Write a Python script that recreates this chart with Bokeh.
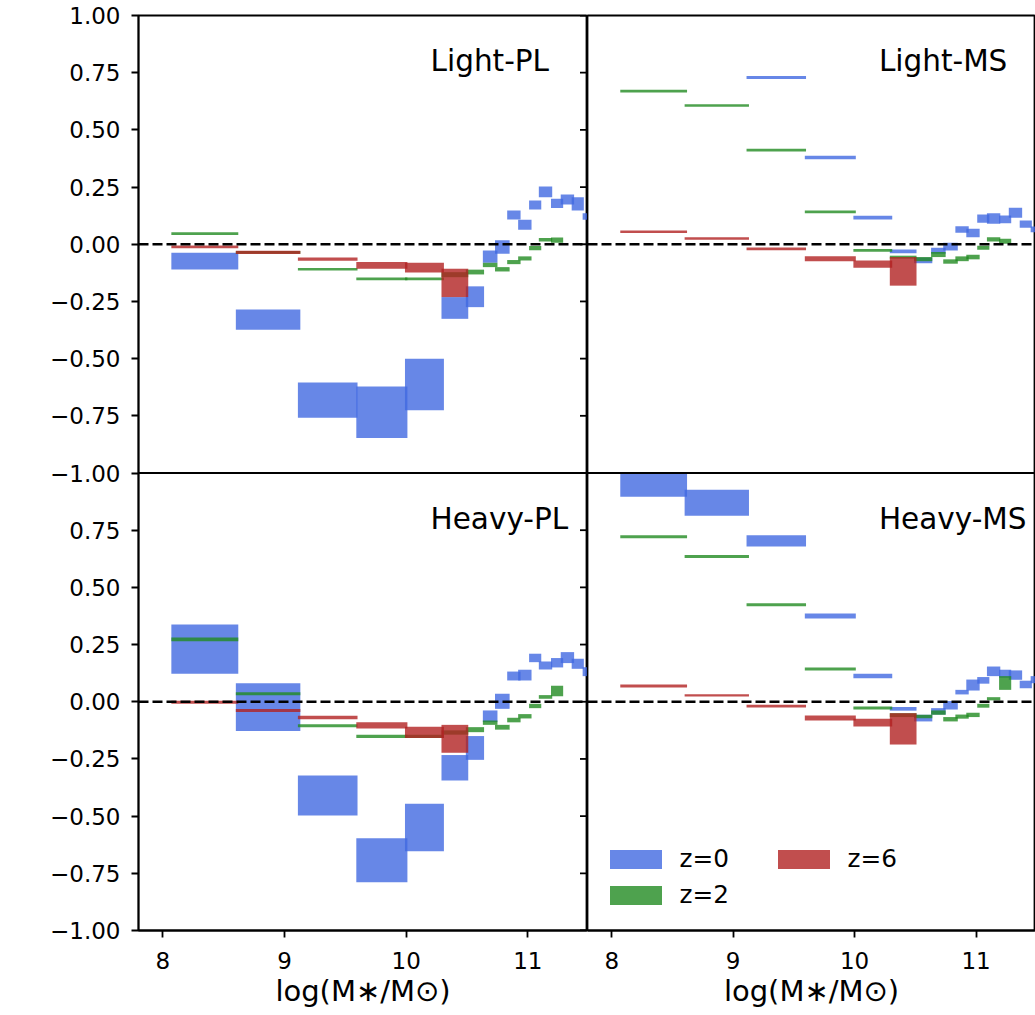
import math

from bokeh.core.properties import value
from bokeh.embed import file_html
from bokeh.layouts import row
from bokeh.models import (CustomJSTickFormatter, FixedTicker, Label, Legend,
                          LegendItem, LinearAxis, Range1d, Span)
from bokeh.plotting import figure
from bokeh.resources import INLINE

nan = float("nan")

# Stellar-mass bins, log(M*/Msun): left and right edges
bin_lo = [8.07, 8.60, 9.11, 9.59, 9.99, 10.29, 10.49, 10.63, 10.73, 10.83,
          10.92, 11.01, 11.09, 11.19, 11.27, 11.36, 11.45]
bin_hi = [8.62, 9.13, 9.60, 10.01, 10.31, 10.51, 10.64, 10.75, 10.85, 10.94,
          11.03, 11.11, 11.20, 11.29, 11.38, 11.46, 11.56]

x_ticks = [8, 9, 10, 11]
y_ticks = [-1.0, -0.75, -0.5, -0.25, 0.0, 0.25, 0.5, 0.75, 1.0]

redshift_labels = ["z=0", "z=2", "z=6"]
redshift_colors = ["royalblue", "forestgreen", "firebrick"]

# Light seeds, power-law occupation: lower / upper edge of each band
light_pl_z0_lo = [-0.110, -0.374, -0.758, -0.847, -0.726, -0.326, -0.275, -0.081, -0.042,
                  0.108, 0.063, 0.152, 0.206, 0.158, 0.174, 0.148, 0.107]
light_pl_z0_hi = [-0.037, -0.285, -0.604, -0.622, -0.500, -0.231, -0.184, -0.027, 0.017,
                  0.148, 0.107, 0.191, 0.253, 0.199, 0.218, 0.206, 0.136]
light_pl_z2_lo = [0.040, -0.042, -0.115, -0.157, -0.157, -0.144, -0.132, -0.100, -0.119,
                  -0.087, -0.071, -0.026, 0.012, 0.007]
light_pl_z2_hi = [0.052, -0.030, -0.104, -0.145, -0.145, -0.122, -0.111, -0.081, -0.100,
                  -0.069, -0.053, -0.008, 0.027, 0.030]
light_pl_z6_lo = [-0.017, -0.043, -0.072, -0.107, -0.123, -0.231]
light_pl_z6_hi = [-0.005, -0.028, -0.058, -0.078, -0.081, -0.107]

# Light seeds, M-sigma occupation
light_ms_z0_lo = [nan, nan, 0.722, 0.372, 0.108, -0.039, -0.083, -0.042, -0.027,
                  0.050, 0.031, 0.094, 0.090, 0.092, 0.116, 0.072, 0.053]
light_ms_z0_hi = [nan, nan, 0.736, 0.387, 0.125, -0.023, -0.058, -0.015, 0.007,
                  0.079, 0.068, 0.130, 0.136, 0.126, 0.160, 0.104, 0.078]
light_ms_z2_lo = [0.663, 0.601, 0.406, 0.136, -0.033, -0.063, -0.074, -0.056, -0.085,
                  -0.074, -0.066, -0.024, 0.012, 0.002]
light_ms_z2_hi = [0.675, 0.612, 0.417, 0.148, -0.021, -0.050, -0.056, -0.034, -0.066,
                  -0.053, -0.046, -0.007, 0.031, 0.024]
light_ms_z6_lo = [0.049, 0.020, -0.026, -0.074, -0.103, -0.181]
light_ms_z6_hi = [0.060, 0.031, -0.014, -0.053, -0.071, -0.056]

# Heavy seeds, power-law occupation
heavy_pl_z0_lo = [0.122, -0.128, -0.497, -0.789, -0.654, -0.344, -0.254, -0.089, -0.031,
                  0.093, 0.093, 0.173, 0.141, 0.150, 0.169, 0.144, 0.112]
heavy_pl_z0_hi = [0.338, 0.081, -0.322, -0.597, -0.446, -0.233, -0.150, -0.038, 0.035,
                  0.132, 0.140, 0.210, 0.176, 0.191, 0.217, 0.188, 0.151]
heavy_pl_z2_lo = [0.265, 0.028, -0.111, -0.159, -0.159, -0.144, -0.133, -0.101, -0.122,
                  -0.090, -0.073, -0.028, 0.013, 0.024]
heavy_pl_z2_hi = [0.281, 0.042, -0.098, -0.144, -0.144, -0.125, -0.111, -0.082, -0.101,
                  -0.070, -0.054, -0.009, 0.029, 0.070]
heavy_pl_z6_lo = [-0.009, -0.045, -0.077, -0.117, -0.159, -0.223]
heavy_pl_z6_hi = [0.004, -0.032, -0.061, -0.090, -0.109, -0.101]

# Heavy seeds, M-sigma occupation (first band capped at the panel top)
heavy_ms_z0_lo = [0.896, 0.813, 0.679, 0.364, 0.103, -0.039, -0.086, -0.056, -0.034,
                  0.032, 0.049, 0.079, 0.112, 0.105, 0.096, 0.059, 0.081]
heavy_ms_z0_hi = [1.000, 0.927, 0.728, 0.386, 0.122, -0.023, -0.057, -0.028, 0.003,
                  0.052, 0.097, 0.108, 0.154, 0.140, 0.137, 0.092, 0.112]
heavy_ms_z2_lo = [0.715, 0.628, 0.418, 0.137, -0.034, -0.067, -0.072, -0.057, -0.086,
                  -0.074, -0.067, -0.026, 0.006, 0.052]
heavy_ms_z2_hi = [0.728, 0.641, 0.431, 0.150, -0.021, -0.050, -0.057, -0.038, -0.067,
                  -0.056, -0.048, -0.009, 0.020, 0.112]
heavy_ms_z6_lo = [0.062, 0.023, -0.025, -0.082, -0.108, -0.187]
heavy_ms_z6_hi = [0.075, 0.033, -0.013, -0.060, -0.074, -0.050]

panels = {
    "Light-PL": [(light_pl_z0_lo, light_pl_z0_hi), (light_pl_z2_lo, light_pl_z2_hi),
                 (light_pl_z6_lo, light_pl_z6_hi)],
    "Light-MS": [(light_ms_z0_lo, light_ms_z0_hi), (light_ms_z2_lo, light_ms_z2_hi),
                 (light_ms_z6_lo, light_ms_z6_hi)],
    "Heavy-PL": [(heavy_pl_z0_lo, heavy_pl_z0_hi), (heavy_pl_z2_lo, heavy_pl_z2_hi),
                 (heavy_pl_z6_lo, heavy_pl_z6_hi)],
    "Heavy-MS": [(heavy_ms_z0_lo, heavy_ms_z0_hi), (heavy_ms_z2_lo, heavy_ms_z2_hi),
                 (heavy_ms_z6_lo, heavy_ms_z6_hi)],
}

FONT = "DejaVu Sans"
X_START, X_END = 7.8, 11.49
SPINE = 1.8

# Each column is one figure holding two stacked panels: the upper panel uses
# the default y range, the lower panel the "lower" range, each spanning -1..1.
UPPER_START = -3.0
LOWER_START = -1.0
SHIFT = LOWER_START - UPPER_START  # offset between the two panels' ranges

all_ticks = y_ticks + [t - SHIFT for t in y_ticks[:-1]]
tick_formatter = CustomJSTickFormatter(
    args=dict(split=y_ticks[0], shift=SHIFT),
    code="""
        const v = tick < split - 1e-9 ? tick + shift : tick;
        return v.toFixed(2).replace('-', '\u2212');
    """,
)


def draw_panel(p, name, range_name):
    renderers = []
    for (lo, hi), color in zip(panels[name], redshift_colors):
        n = len(lo)
        r = p.quad(left=bin_lo[:n], right=bin_hi[:n], bottom=lo, top=hi,
                   y_range_name=range_name, fill_color=color, fill_alpha=0.8,
                   line_color=None)
        renderers.append(r)
    p.add_layout(Span(location=0, dimension="width", y_range_name=range_name,
                      line_color="black", line_width=2.7, line_dash="10 4"))
    p.text(x=[10.2], y=[0.8], text=[name], y_range_name=range_name,
           text_font=value(FONT), text_font_size="29.5px", text_color="black",
           text_align="left", text_baseline="alphabetic")
    return renderers


def build_column(top_name, bottom_name, first):
    p = figure(width=587 if first else 448, height=1015,
               x_range=Range1d(X_START, X_END), y_range=Range1d(UPPER_START, 1),
               x_axis_type=None, y_axis_type=None,
               output_backend="svg", toolbar_location=None,
               min_border_top=15, min_border_bottom=85,
               min_border_left=138 if first else 0, min_border_right=0)
    p.extra_y_ranges = {"lower": Range1d(LOWER_START, LOWER_START + 4)}
    p.xgrid.visible = False
    p.ygrid.visible = False
    p.outline_line_color = "black"
    p.outline_line_width = SPINE
    p.background_fill_color = "white"
    p.border_fill_color = "white"

    xaxis = LinearAxis(ticker=FixedTicker(ticks=x_ticks),
                       axis_label="log(M\u2217/M\u2299)",
                       axis_label_text_font=FONT, axis_label_text_font_size="29px",
                       axis_label_text_font_style="normal", axis_label_text_color="black",
                       axis_label_standoff=2,
                       major_label_text_font=FONT, major_label_text_font_size="23px",
                       major_label_text_color="black",
                       major_label_standoff=14,
                       major_tick_out=7, major_tick_in=0, major_tick_line_width=SPINE,
                       minor_tick_line_color=None, axis_line_width=SPINE)
    p.add_layout(xaxis, "below")

    if first:
        yaxis = LinearAxis(ticker=FixedTicker(ticks=all_ticks), formatter=tick_formatter,
                           major_label_text_font=FONT, major_label_text_font_size="23px",
                           major_label_text_color="black",
                           major_label_standoff=11,
                           major_tick_out=7, major_tick_in=0, major_tick_line_width=SPINE,
                           minor_tick_line_color=None, axis_line_width=SPINE)
        p.add_layout(yaxis, "left")
        for rn in ("default", "lower"):
            p.add_layout(Label(x=X_START, x_offset=-116, y=0, y_range_name=rn,
                               text="log(Mass-Weighted Occupation)",
                               angle=math.pi / 2, text_align="center",
                               text_baseline="middle", text_font=FONT,
                               text_font_size="27.5px", text_color="black"))
        # ticks of the neighbouring column's y axis reach into this frame
        p.scatter(x=[X_END] * len(all_ticks), y=all_ticks, marker="dash", size=15,
                  line_color="black", line_width=SPINE)

    # boundary between the two stacked panels
    p.add_layout(Span(location=y_ticks[0], dimension="width", line_color="black",
                      line_width=SPINE))

    draw_panel(p, top_name, "default")
    renderers = draw_panel(p, bottom_name, "lower")
    return p, renderers


left, _ = build_column("Light-PL", "Heavy-PL", True)
right, leg_renderers = build_column("Light-MS", "Heavy-MS", False)

legend = Legend(items=[LegendItem(label=lab, renderers=[r])
                       for lab, r in zip(redshift_labels, leg_renderers)],
                location=(15.5, 21), ncols=2, margin=0, padding=0, spacing=7,
                glyph_width=65, glyph_height=24, label_standoff=12, label_width=84,
                label_text_font=FONT, label_text_font_size="24.75px",
                label_text_color="black",
                border_line_color=None, background_fill_alpha=0)
right.add_layout(legend)

layout = row(left, right, spacing=0)
open("out.html", "w").write(file_html(layout, INLINE))
